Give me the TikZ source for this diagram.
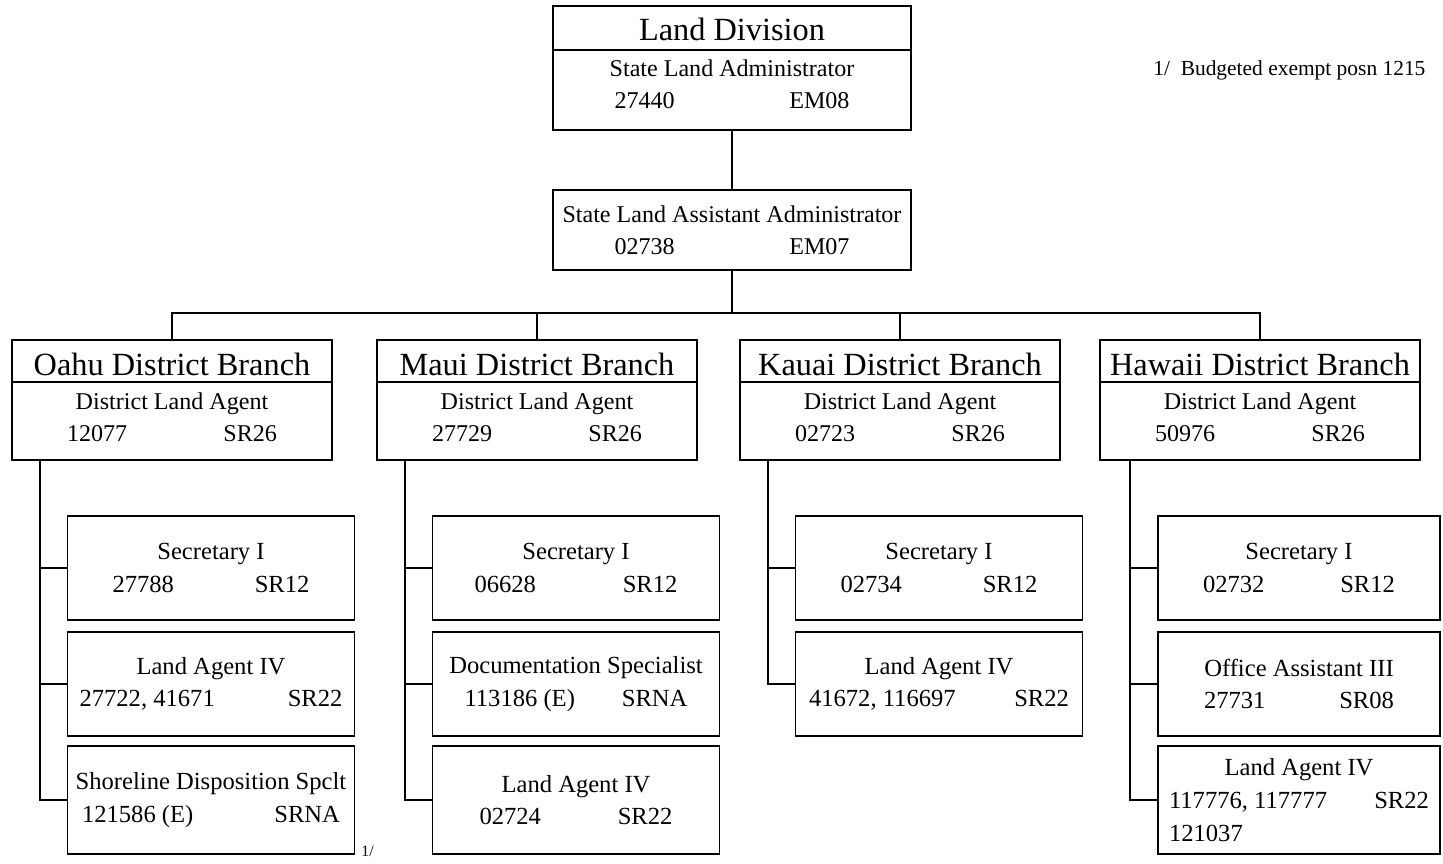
\documentclass[tikz,border=0pt]{standalone}
\usepackage{fontspec}
\setmainfont{Liberation Serif}
\usetikzlibrary{positioning}
\newcommand{\numrow}[3]{\makebox[#1]{#2\hfill#3}}
\tikzset{
  unitbox/.style={rectangle, draw=black, line width=1pt, inner sep=0pt},
  headbox/.style={unitbox, minimum width=6.4cm, minimum height=2.4cm},
  staffbox/.style={unitbox, minimum width=5.74cm, minimum height=2.08cm,
                   align=center, font=\fontsize{14}{18.6}\selectfont},
  headtext/.style={inner sep=0pt, font=\fontsize{18.4}{20}\selectfont},
  bodytext/.style={inner sep=0pt, align=center, font=\fontsize{13.7}{18.2}\selectfont},
  link/.style={line width=1pt}
}
\begin{document}
\begin{tikzpicture}[x=0.02cm, y=-0.02cm, node distance=2.32cm]
\useasboundingbox (0,0) rectangle (1443,864);

% Division head and assistant
\node (div) [unitbox, minimum width=7.16cm, minimum height=2.48cm] at (732,68) {};
\draw [link] ([yshift=-0.9cm]div.north west) -- ([yshift=-0.9cm]div.north east);
\node (div-t) [headtext] at (732,29) {Land Division};
\node (div-b) [bodytext] at (732,84) {State Land Administrator\\\numrow{4.7cm}{27440}{EM08}};
\node (asst) [unitbox, bodytext, minimum width=7.16cm, minimum height=1.6cm] at (732,230)
  {State Land Assistant Administrator\\\numrow{4.7cm}{02738}{EM07}};
\coordinate (bus) at (732,313);
\draw [link] (div) -- (asst);
\draw [link] (asst) -- (bus);

\node (note) [anchor=west, inner sep=0pt, font=\fontsize{12.2}{14}\selectfont] at (1153,70) {1/\ \ Budgeted exempt posn 1215};

% District branches
\foreach \n/\x/\place/\num in {oahu/172/Oahu/12077, maui/537/Maui/27729, kauai/900/Kauai/02723, hawaii/1260/Hawaii/50976} {
  \node (\n) [headbox] at (\x,400) {};
  \draw [link] ([yshift=-0.86cm]\n.north west) -- ([yshift=-0.86cm]\n.north east);
  \node (\n-t) [headtext] at (\x,364) {\place\ District Branch};
  \node (\n-b) [bodytext] at (\x,417) {District Land Agent\\\numrow{4.2cm}{\num}{SR26}};
  \draw [link] (\n) |- (bus);
}

% Oahu staff
\node (oahu1) [staffbox] at (211,568) {Secretary I\\\numrow{3.94cm}{27788}{SR12}};
\node (oahu2) [staffbox, below of=oahu1] {Land Agent IV\\\numrow{5.26cm}{27722, 41671}{SR22}};
\node (oahu3) [staffbox, below of=oahu2, minimum height=2.16cm] {Shoreline Disposition Spclt\\\numrow{5.16cm}{121586 (E)}{SRNA}};
\node (mark) [anchor=west, inner sep=0pt, font=\fontsize{9}{10}\selectfont] at (361,851) {1/};

% Maui staff
\node (maui1) [staffbox] at (576,568) {Secretary I\\\numrow{4.06cm}{06628}{SR12}};
\node (maui2) [staffbox, below of=maui1] {Documentation Specialist\\\numrow{4.46cm}{113186 (E)}{SRNA}};
\node (maui3) [staffbox, below of=maui2, minimum height=2.16cm] {Land Agent IV\\\numrow{3.86cm}{02724}{SR22}};

% Kauai staff
\node (kauai1) [staffbox] at (939,568) {Secretary I\\\numrow{3.94cm}{02734}{SR12}};
\node (kauai2) [staffbox, below of=kauai1] {Land Agent IV\\\numrow{5.2cm}{41672, 116697}{SR22}};

% Hawaii staff
\node (hawaii1) [staffbox, minimum width=5.64cm] at (1299,568) {Secretary I\\\numrow{3.84cm}{02732}{SR12}};
\node (hawaii2) [staffbox, minimum width=5.64cm, below of=hawaii1] {Office Assistant III\\\numrow{3.8cm}{27731}{SR08}};
\node (hawaii3) [staffbox, minimum width=5.64cm, minimum height=2.16cm, below of=hawaii2]
  {Land Agent IV\\\numrow{5.2cm}{117776, 117777}{SR22}\\\makebox[5.2cm][l]{121037}};

% Trunk lines to staff
\coordinate (oahu-tr) at (40,460);
\coordinate (maui-tr) at (405,460);
\coordinate (kauai-tr) at (768,460);
\coordinate (hawaii-tr) at (1130,460);
\draw [link] (oahu-tr) |- (oahu3);
\draw [link] (maui-tr) |- (maui3);
\draw [link] (kauai-tr) |- (kauai2);
\draw [link] (hawaii-tr) |- (hawaii3);
\foreach \c/\t in {oahu1/oahu-tr, oahu2/oahu-tr, maui1/maui-tr, maui2/maui-tr, kauai1/kauai-tr, hawaii1/hawaii-tr, hawaii2/hawaii-tr}
  \draw [link] (\c.west) -- (\c.west -| \t);
\end{tikzpicture}
\end{document}
